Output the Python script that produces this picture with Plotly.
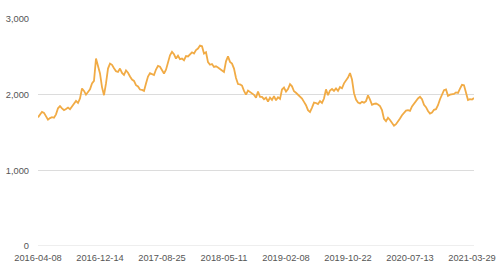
import plotly.graph_objects as go

tick_labels = ["2016-04-08", "2016-12-14", "2017-08-25", "2018-05-11",
               "2019-02-08", "2019-10-22", "2020-07-13", "2021-03-29"]
points_per_tick = 31

values = [
    1700, 1740, 1773, 1760, 1716, 1670, 1690, 1703, 1695, 1740,
    1820, 1848, 1820, 1795, 1812, 1830, 1808, 1850, 1874, 1918,
    1890, 1950, 2082, 2050, 2000, 2030, 2070, 2148, 2182, 2477,
    2367, 2280, 2100, 1993, 2148, 2345, 2411, 2395, 2350, 2310,
    2300, 2345, 2288, 2260, 2320, 2290, 2240, 2200, 2182, 2125,
    2108, 2068, 2062, 2050, 2148, 2240, 2285, 2270, 2260, 2332,
    2380, 2370, 2320, 2280, 2330, 2440, 2520, 2565, 2534, 2477,
    2515, 2470, 2477, 2455, 2510, 2505, 2530, 2560, 2545, 2590,
    2609, 2650, 2640, 2543, 2560, 2430, 2395, 2405, 2367, 2375,
    2360, 2335, 2320, 2300, 2440, 2506, 2433, 2411, 2345, 2220,
    2140, 2135, 2120, 2050, 2000, 2055, 2037, 2015, 1998, 1960,
    2040, 1971, 1970, 1940, 1960, 1910, 1960, 1930, 1980, 1925,
    1965, 1945, 2068, 2094, 2040, 2075, 2140, 2110, 2045, 2025,
    2000, 1971, 1949, 1905, 1861, 1795, 1770, 1830, 1895, 1890,
    1875, 1915, 1890, 1949, 2070, 1993, 2055, 2075, 2050, 2082,
    2050, 2100, 2085, 2150, 2190, 2225, 2285, 2200, 2020, 1935,
    1895, 1885, 1905, 1895, 1915, 1990, 1935, 1865, 1878, 1883,
    1870, 1848, 1795, 1680, 1650, 1695, 1665, 1633, 1590, 1610,
    1642, 1686, 1729, 1755, 1790, 1795, 1785, 1845, 1880, 1920,
    1950, 1971, 1940, 1865, 1835, 1785, 1750, 1765, 1800, 1808,
    1860, 1940, 2010, 2060, 2070, 1985, 2000, 2005, 2010, 2030,
    2024, 2080, 2130, 2125, 2015, 1930, 1940, 1935, 1955,
]

x_idx = list(range(len(values)))
tick_vals = [i * points_per_tick for i in range(len(tick_labels))]

fig = go.Figure()
fig.add_trace(go.Scatter(
    x=x_idx, y=values, mode="lines",
    line=dict(color="#F1AB45", width=1.8),
    showlegend=False,
))

fig.update_layout(
    width=500, height=276,
    margin=dict(l=38, r=26, t=19, b=30, autoexpand=False),
    paper_bgcolor="white", plot_bgcolor="white",
    font=dict(family="Liberation Sans, Arial, sans-serif", size=9.3, color="#555"),
)
fig.update_xaxes(
    range=[0, len(values) - 1],
    tickvals=tick_vals, ticktext=tick_labels,
    showgrid=False, zeroline=False, showline=False,
    ticks="", ticklabelstandoff=5, automargin=False,
    tickfont=dict(size=9.3, color="#555"),
)
fig.update_yaxes(
    range=[0, 3000], tickvals=[0, 1000, 2000, 3000],
    tickformat=",d",
    showgrid=True, gridcolor="#dcdcdc", gridwidth=1,
    zeroline=False, showline=False, ticks="", ticklabelstandoff=8,
    automargin=False,
    tickfont=dict(size=9.3, color="#555"),
)
fig.add_shape(type="line", xref="paper", yref="y", x0=0, x1=1, y0=0, y1=0,
              line=dict(color="#dcdcdc", width=1), layer="below")

fig.write_html("out.html")
